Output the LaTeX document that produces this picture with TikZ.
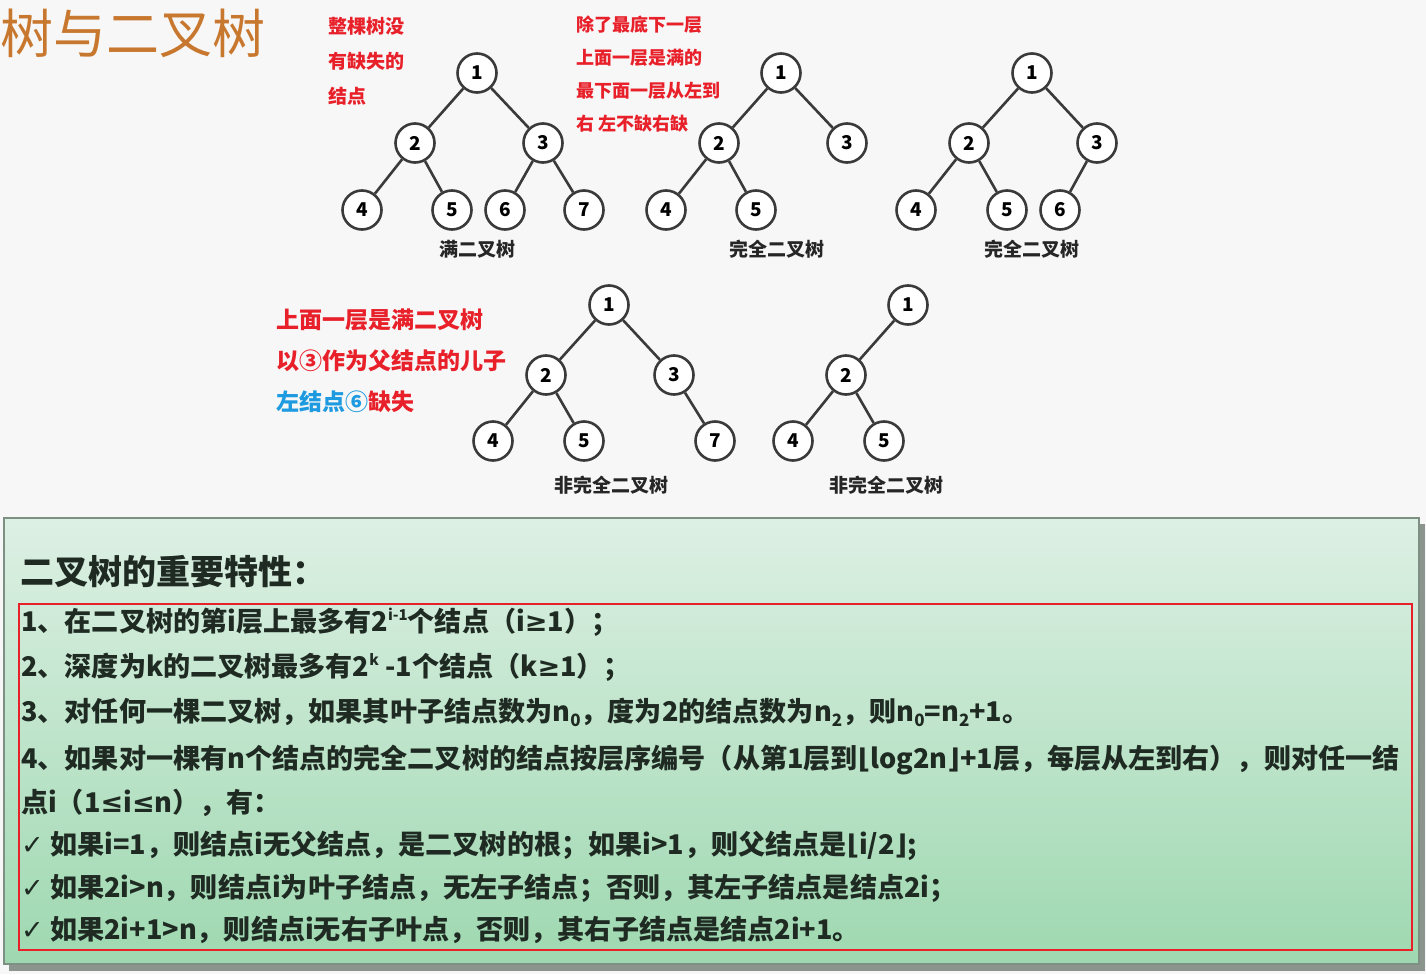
\documentclass[tikz,border=0pt]{standalone}
\usepackage{fontspec}
\setmainfont{Noto Sans CJK SC}
\newfontfamily\symfont{DejaVu Sans}
\usepackage{tikz}
\usetikzlibrary{positioning}
\definecolor{nodegray}{HTML}{3A3A3A}
\definecolor{titlebrown}{HTML}{C8782E}
\definecolor{notered}{HTML}{E8202A}
\definecolor{noteblue}{HTML}{1E9BE0}
\definecolor{boxtop}{HTML}{DDF0E4}
\definecolor{boxbottom}{HTML}{9ED8B0}
\definecolor{boxline}{HTML}{7E9084}
\definecolor{boxshadow}{HTML}{8C948E}
\definecolor{bodyink}{HTML}{1E2A22}
\newcommand{\fsz}[1]{\fontsize{#1}{#1}\selectfont}
\newcommand{\supx}[1]{\raisebox{0.75ex}{\fsz{15}#1}}
\newcommand{\subx}[1]{\raisebox{-0.35ex}{\fsz{17}#1}}
\newcommand{\symx}[1]{{\symfont\bfseries #1}}
\tikzset{
  tnode/.style={circle, draw=nodegray, line width=2.6pt, fill=white, minimum size=39pt, inner sep=0pt, font=\fsz{19}\bfseries},
  tedge/.style={draw=nodegray, line width=2.6pt},
  tname/.style={font=\fsz{19}\bfseries, text=black!85},
  note/.style={anchor=west, inner sep=0pt, text=notered, font=\fsz{19}\bfseries},
  bignote/.style={anchor=west, inner sep=0pt, text=notered, font=\fsz{23}\bfseries},
  rule/.style={anchor=west, inner sep=0pt, text=bodyink, font=\fsz{27.1}\bfseries}
}

\begin{document}
\begin{tikzpicture}[x=1pt, y=-1pt]
		\useasboundingbox (0,0) rectangle (1426,974);
		\fill[black!3] (0,0) rectangle (1426,974);
		\node[anchor=west, inner sep=0pt, text=titlebrown, font=\fsz{53}] (title) at (0,33) {树与二叉树};

		% full tree
		\node[tnode] (a1) at (477,73) {1};
		\node[tnode] (a2) at (415,143) {2};
		\node[tnode] (a3) at (543,143) {3};
		\node[tnode] (a4) at (362,210) {4};
		\node[tnode] (a5) at (452,210) {5};
		\node[tnode] (a6) at (505,210) {6};
		\node[tnode] (a7) at (584,210) {7};
		\foreach \p/\c in {a1/a2,a1/a3,a2/a4,a2/a5,a3/a6,a3/a7}
			\draw[tedge] (\p) -- (\c);
		\node[tname] (aname) at (477,249) {满二叉树};

		% complete trees
		\node[tnode] (b1) at (781,73) {1};
		\node[tnode] (b2) at (719,143) {2};
		\node[tnode] (b3) at (847,143) {3};
		\node[tnode] (b4) at (666,210) {4};
		\node[tnode] (b5) at (756,210) {5};
		\foreach \p/\c in {b1/b2,b1/b3,b2/b4,b2/b5}
			\draw[tedge] (\p) -- (\c);
		\node[tname] (bname) at (777,249) {完全二叉树};

		\node[tnode] (c1) at (1032,73) {1};
		\node[tnode] (c2) at (969,143) {2};
		\node[tnode] (c3) at (1097,143) {3};
		\node[tnode] (c4) at (916,210) {4};
		\node[tnode] (c5) at (1007,210) {5};
		\node[tnode] (c6) at (1060,210) {6};
		\foreach \p/\c in {c1/c2,c1/c3,c2/c4,c2/c5,c3/c6}
			\draw[tedge] (\p) -- (\c);
		\node[tname] (cname) at (1032,249) {完全二叉树};

		% not complete
		\node[tnode] (d1) at (609,305) {1};
		\node[tnode] (d2) at (546,375) {2};
		\node[tnode] (d3) at (674,375) {3};
		\node[tnode] (d4) at (493,441) {4};
		\node[tnode] (d5) at (584,441) {5};
		\node[tnode] (d7) at (715,441) {7};
		\foreach \p/\c in {d1/d2,d1/d3,d2/d4,d2/d5,d3/d7}
			\draw[tedge] (\p) -- (\c);
		\node[tname] (dname) at (611,485) {非完全二叉树};

		\node[tnode] (e1) at (908,305) {1};
		\node[tnode] (e2) at (846,375) {2};
		\node[tnode] (e4) at (793,441) {4};
		\node[tnode] (e5) at (884,441) {5};
		\foreach \p/\c in {e1/e2,e2/e4,e2/e5}
			\draw[tedge] (\p) -- (\c);
		\node[tname] (ename) at (886,485) {非完全二叉树};

		% red notes
		\node[note] (n1) at (328,26) {整棵树没};
		\node[note] (n2) at (328,61) {有缺失的};
		\node[note] (n3) at (328,96) {结点};
		\node[note, font=\fsz{18}\bfseries] (m1) at (576,25) {除了最底下一层};
		\node[note, font=\fsz{18}\bfseries] (m2) at (576,58) {上面一层是满的};
		\node[note, font=\fsz{18}\bfseries] (m3) at (576,91) {最下面一层从左到};
		\node[note, font=\fsz{18}\bfseries] (m4) at (576,124) {右 左不缺右缺};
		\node[bignote] (k1) at (276,320) {上面一层是满二叉树};
		\node[bignote] (k2) at (276,361) {以③作为父结点的儿子};
		\node[bignote] (k3) at (276,402) {\textcolor{noteblue}{左结点⑥}缺失};

		% properties box
		\fill[boxshadow] (9,524) rectangle (1425,971);
		\shade[top color=boxtop, bottom color=boxbottom, draw=boxline, line width=1.5pt] (4,518) rectangle (1419,964);
		\node[rule, font=\fsz{34}\bfseries] (head) at (20,572) {二叉树的重要特性：};
		\draw[notered, line width=2.2pt] (19,604) rectangle (1412,950);
		\node[rule] (r1) at (21,622) {1、在二叉树的第i层上最多有2\supx{i-1}个结点（i\symx{≥}1）；};
		\node[rule] (r2) at (21,667) {2、深度为k的二叉树最多有2\supx{k} -1个结点（k\symx{≥}1）；};
		\node[rule] (r3) at (21,712) {3、对任何一棵二叉树，如果其叶子结点数为n\subx{0}，度为2的结点数为n\subx{2}，则n\subx{0}=n\subx{2}+1。};
		\node[rule] (r4) at (21,760) {4、如果对一棵有n个结点的完全二叉树的结点按层序编号（从第1层到\symx{⌊}log2n\symx{⌋}+1层，每层从左到右），则对任一结};
		\node[rule] (r5) at (21,803) {点i（1\symx{≤}i\symx{≤}n），有：};
		\node[rule] (r6) at (21,846) {\symx{✓} 如果i=1，则结点i无父结点，是二叉树的根；如果i>1，则父结点是\symx{⌊}i/2\symx{⌋};};
		\node[rule] (r7) at (21,888) {\symx{✓} 如果2i>n，则结点i为叶子结点，无左子结点；否则，其左子结点是结点2i；};
		\node[rule] (r8) at (21,930) {\symx{✓} 如果2i+1>n，则结点i无右子叶点，否则，其右子结点是结点2i+1。};
	\end{tikzpicture}
\end{document}
